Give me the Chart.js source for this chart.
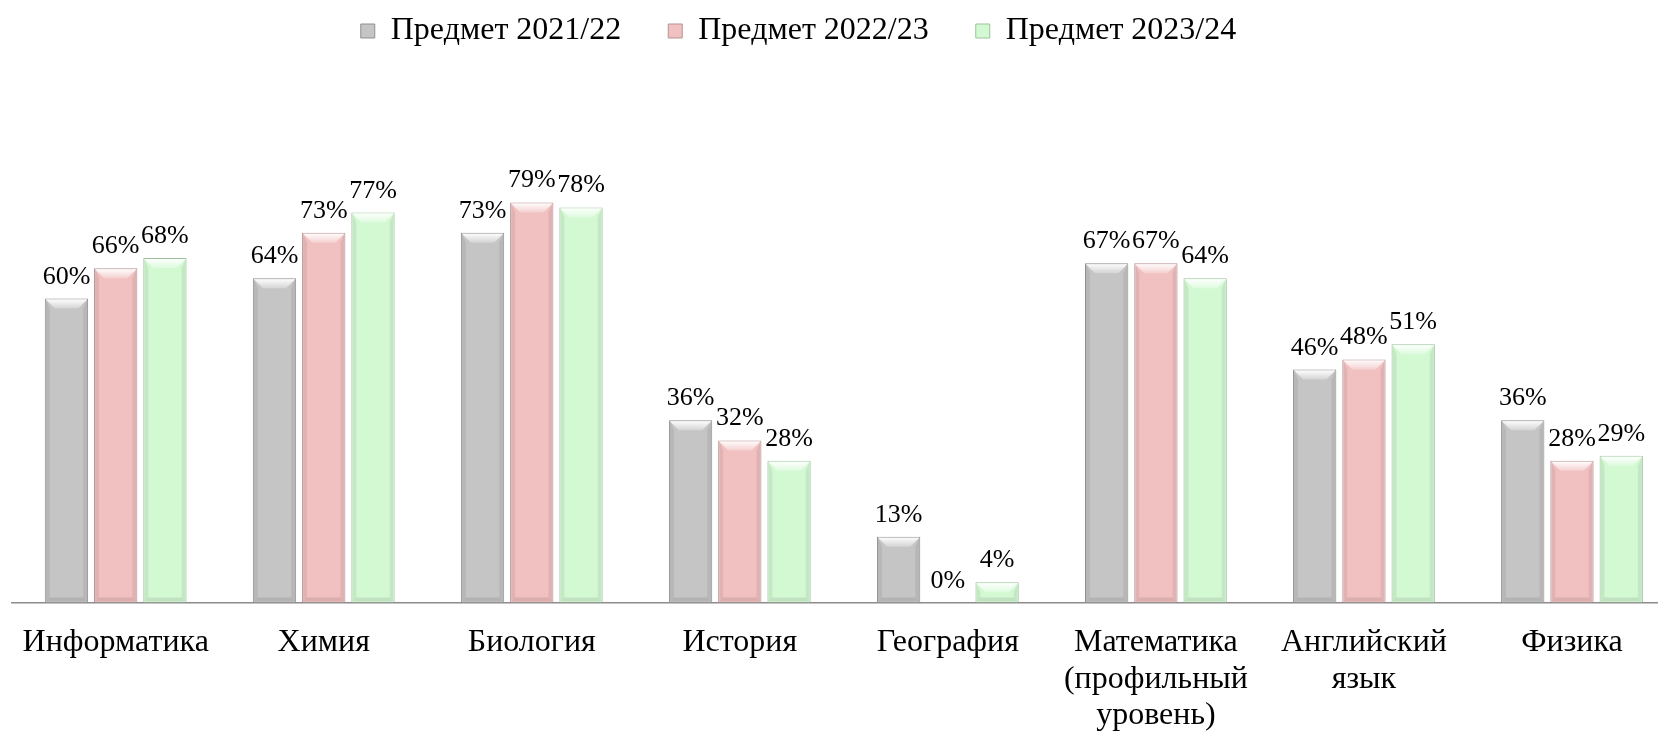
<!DOCTYPE html>
<html lang="ru">
<head>
    <meta charset="UTF-8">
    <title>Предметы 2021–2024</title>
    <script src="https://cdn.jsdelivr.net/npm/chart.js"></script>
    <style>
        body { margin: 0; padding: 0; overflow: hidden; background: white; }
        #chartBox { width: 1676px; height: 733px; }
    </style>
</head>
<body>
    <div id="chartBox">
        <canvas id="chart"></canvas>
    </div>

    <script>
        const subjects = [
            'Информатика', 'Химия', 'Биология', 'История', 'География',
            ['Математика', '(профильный', 'уровень)'], ['Английский', 'язык'], 'Физика'
        ];
        const seriesNames = ['Предмет 2021/22', 'Предмет 2022/23', 'Предмет 2023/24'];
        const year2122 = [60, 64, 73, 36, 13, 67, 46, 36];
        const year2223 = [66, 73, 79, 32, 0, 67, 48, 28];
        const year2324 = [68, 77, 78, 28, 4, 64, 51, 29];

        const fills = ['#c5c5c5', '#f1c0c0', '#d3f9d3'];
        const edges = ['#8f8f8f', '#b39393', '#9dc19d'];
        const font = '"Liberation Serif", "Times New Roman", serif';

        // value labels above every bar
        const valueLabels = {
            id: 'valueLabels',
            afterDatasetsDraw(chart) {
                const ctx = chart.ctx;
                ctx.save();
                ctx.font = '26px ' + font;
                ctx.fillStyle = '#000';
                ctx.textAlign = 'center';
                ctx.textBaseline = 'alphabetic';
                chart.data.datasets.forEach((ds, i) => {
                    chart.getDatasetMeta(i).data.forEach((bar, j) => {
                        ctx.fillText(ds.data[j] + '%', bar.x, bar.y - 15);
                    });
                });
                ctx.restore();
            }
        };

        // soft bevel on the bars, like the office "3D" bar style
        const bevel = {
            id: 'bevel',
            afterDatasetsDraw(chart) {
                const ctx = chart.ctx;
                ctx.save();
                chart.data.datasets.forEach((ds, i) => {
                    chart.getDatasetMeta(i).data.forEach(bar => {
                        const l = bar.x - bar.width / 2 + 1, r = bar.x + bar.width / 2 - 1;
                        const t = bar.y + 1, b = bar.base - 1;
                        const h = b - t;
                        if (h < 4) return;
                        const d = Math.min(9, h / 2);
                        const s = Math.min(4, h / 2);
                        // top facet
                        const g = ctx.createLinearGradient(0, t, 0, t + d);
                        g.addColorStop(0, 'rgba(255,255,255,0.95)');
                        g.addColorStop(1, 'rgba(255,255,255,0.25)');
                        ctx.fillStyle = g;
                        ctx.beginPath();
                        ctx.moveTo(l, t); ctx.lineTo(r, t);
                        ctx.lineTo(r - d, t + d); ctx.lineTo(l + d, t + d);
                        ctx.closePath(); ctx.fill();
                        // side facets
                        ctx.fillStyle = 'rgba(0,0,0,0.07)';
                        ctx.beginPath();
                        ctx.moveTo(l, t); ctx.lineTo(l + s, t + d);
                        ctx.lineTo(l + s, b - s); ctx.lineTo(l, b);
                        ctx.closePath(); ctx.fill();
                        ctx.beginPath();
                        ctx.moveTo(r, t); ctx.lineTo(r - s, t + d);
                        ctx.lineTo(r - s, b - s); ctx.lineTo(r, b);
                        ctx.closePath(); ctx.fill();
                        // bottom facet
                        ctx.fillStyle = 'rgba(0,0,0,0.09)';
                        ctx.beginPath();
                        ctx.moveTo(l, b); ctx.lineTo(r, b);
                        ctx.lineTo(r - s, b - s); ctx.lineTo(l + s, b - s);
                        ctx.closePath(); ctx.fill();
                    });
                });
                ctx.restore();
            }
        };

        // legend sits a bit left of centre and close to the top edge
        const legendShift = {
            id: 'legendShift',
            afterLayout(chart) {
                const lg = chart.legend;
                lg.left -= 44; lg.right -= 44;
                lg.top -= 39; lg.bottom -= 39;
            }
        };

        const datasets = [year2122, year2223, year2324].map((vals, i) => ({
            label: seriesNames[i],
            data: vals,
            backgroundColor: fills[i],
            borderColor: edges[i],
            borderWidth: 1,
            categoryPercentage: 0.71,
            barPercentage: 0.88
        }));

        new Chart(document.getElementById('chart'), {
            type: 'bar',
            data: { labels: subjects, datasets: datasets },
            options: {
                responsive: true,
                maintainAspectRatio: false,
                animation: false,
                layout: { padding: { left: 9, right: 0, top: 7, bottom: -23 } },
                plugins: {
                    legend: {
                        position: 'top',
                        labels: {
                            font: { family: font, size: 32 },
                            color: '#000',
                            boxWidth: 14,
                            boxHeight: 14,
                            padding: 47
                        }
                    },
                    tooltip: { enabled: false }
                },
                scales: {
                    x: {
                        grid: { display: false, drawTicks: false },
                        border: { display: true, color: '#8c8c8c', width: 1.5 },
                        ticks: {
                            font: { family: font, size: 32, lineHeight: 1.14 },
                            color: '#000',
                            padding: 22,
                            maxRotation: 0
                        }
                    },
                    y: {
                        display: false,
                        min: 0,
                        max: 100
                    }
                }
            },
            plugins: [bevel, valueLabels, legendShift]
        });
    </script>
</body>
</html>
